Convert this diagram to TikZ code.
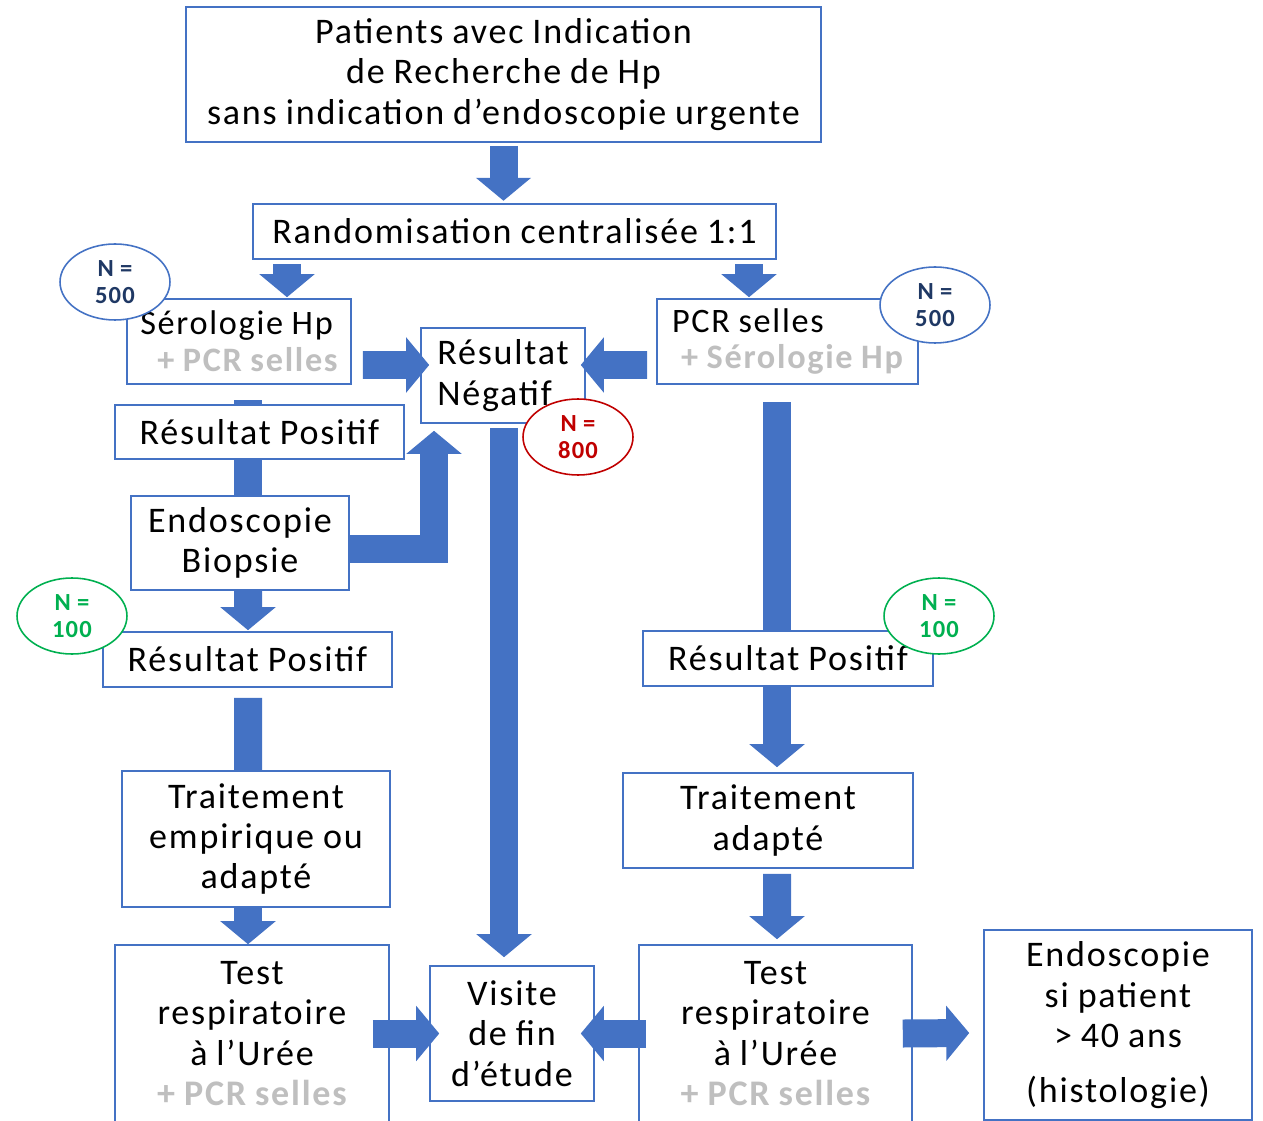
\documentclass[tikz,border=0pt]{standalone}
\usepackage{fontspec}
\setmainfont{Carlito}[LetterSpace=5, WordSpace=0.9]
\usetikzlibrary{arrows.meta, calc, shapes, positioning}
\definecolor{boxblue}{HTML}{4472C4}
\definecolor{darkblue}{HTML}{1F3864}
\definecolor{darkred}{HTML}{C00000}
\definecolor{okgreen}{HTML}{00B050}
\definecolor{paletext}{HTML}{BFBFBF}

\begin{document}
\begin{tikzpicture}[x=0.02cm, y=-0.02cm,
    box/.style={draw=boxblue, line width=0.9pt, fill=white, inner sep=0pt,
                align=center, font=\fontsize{20.5}{23}\selectfont},
    count/.style={ellipse, draw=#1, line width=0.9pt, fill=white, text=#1,
                  inner sep=0pt, minimum width=2.2cm, minimum height=1.52cm,
                  align=center, font=\fontsize{14}{15}\selectfont\bfseries},
    big/.style={draw=boxblue, line width=0.56cm, line join=miter,
                -{Triangle[width=1.08cm, length=0.46cm]}},
    shaft/.style={draw=boxblue, line width=0.56cm}]

      \useasboundingbox (0,0) rectangle (1263,1121);
      \clip (0,0) rectangle (1263,1121);

      \draw[shaft] (248,400) -- (248,497);
      \draw[shaft] (777,402) -- (777,631);

      \node[box, minimum width=12.7cm, minimum height=2.7cm]  (top)    at (503.5,74.5)
           {Patients avec Indication\\de Recherche de Hp\\sans indication d’endoscopie urgente};
      \node[box, minimum width=10.46cm, minimum height=1.1cm] (rand)   at (514.5,231.5)
           {Randomisation centralisée 1:1};
      \node[box, minimum width=4.48cm, minimum height=1.7cm, align=left,
            font=\fontsize{19.5}{21}\selectfont]              (sero)   at (239,341.5)
           {Sérologie Hp\\\hspace*{0.34cm}\textcolor{paletext}{\bfseries + PCR selles}};
      \node[box, minimum width=3.28cm, minimum height=1.9cm, align=left] (neg) at (503,375.5)
           {Résultat\\Négatif};
      \node[box, minimum width=5.22cm, minimum height=1.7cm, align=left,
            font=\fontsize{19.5}{21}\selectfont]              (pcr)    at (787.5,341.5)
           {PCR selles\\\hspace*{0.18cm}\textcolor{paletext}{\bfseries + Sérologie Hp}};
      \node[box, minimum width=5.78cm, minimum height=1.08cm] (pos_1)  at (259.5,432)
           {Résultat Positif};
      \node[box, minimum width=4.36cm, minimum height=1.88cm] (endo)   at (240,543)
           {Endoscopie\\Biopsie};
      \node[box, minimum width=5.78cm, minimum height=1.1cm]  (pos_2)  at (247.5,659.5)
           {Résultat Positif};
      \node[box, minimum width=5.8cm, minimum height=1.1cm]   (pos_3)  at (788,658.5)
           {Résultat Positif};
      \node[box, minimum width=5.36cm, minimum height=2.72cm] (trait_1) at (256,839)
           {Traitement\\empirique ou\\adapté};
      \node[box, minimum width=5.8cm, minimum height=1.9cm]   (trait_2) at (768,820.5)
           {Traitement\\adapté};
      \node[box, minimum width=5.48cm, minimum height=3.54cm] (test_1) at (252,1033.5)
           {Test\\respiratoire\\à l’Urée\\\textcolor{paletext}{\bfseries + PCR selles}};
      \node[box, minimum width=3.28cm, minimum height=2.7cm]  (visite) at (512,1033.5)
           {Visite\\de fin\\d’étude};
      \node[box, minimum width=5.46cm, minimum height=3.54cm] (test_2) at (775.5,1033.5)
           {Test\\respiratoire\\à l’Urée\\\textcolor{paletext}{\bfseries + PCR selles}};
      \node[box, minimum width=5.36cm, minimum height=3.8cm]  (endo_2) at (1118,1025)
           {Endoscopie\\si patient\\> 40 ans\\[8pt](histologie)};

      \draw[big] ($(top.south)+(0,3)$)        -- ($(top.south)+(0,58)$);
      \draw[big] ($(sero.north)+(48,-34)$)    -- ($(sero.north)+(48,-1)$);
      \draw[big] ($(pcr.north)+(-38.5,-34)$)  -- ($(pcr.north)+(-38.5,-1)$);
      \draw[big] ($(sero.east)+(11,23.5)$)    -- ($(neg.west)+(9,-10.5)$);
      \draw[big] ($(pcr.west)+(-9,23.5)$)     -- ($(neg.east)+(-5,-10.5)$);
      \draw[big] ($(endo.east)+(0,6)$)        -| ($(neg.south)+(-69,7)$);
      \draw[big] ($(neg.south)+(1,4)$)        -- ($(visite.north)+(-8,-8)$);
      \draw[big] ($(endo.south)+(8,0)$)       -- ($(pos_2.north)+(0.5,-1)$);
      \draw[shaft] ($(pos_2.south)+(0.5,10)$) -- ($(trait_1.north)+(-8,0)$);
      \draw[big] ($(trait_1.south)+(-8,0)$)   -- ($(test_1.north)+(-4,0)$);
      \draw[big] ($(test_1.east)+(-17,0)$)    -- ($(visite.west)+(10,0)$);
      \draw[big] ($(test_2.west)+(8,0)$)      -- ($(visite.east)+(-14,0)$);
      \draw[big] ($(test_2.east)+(-10,0)$)    -- ($(endo_2.west)+(-14,8)$);
      \draw[big] ($(pos_3.south)+(-11,0)$)    -- ($(trait_2.north)+(9,-5)$);
      \draw[big] ($(trait_2.south)+(9,5)$)    -- ($(test_2.north)+(1.5,-5)$);

      \node[count=boxblue, text=darkblue] (n_a) at (115,282) {N =\\500};
      \node[count=boxblue, text=darkblue] (n_b) at (935,305) {N =\\500};
      \node[count=darkred]                (n_c) at (578,437) {N =\\800};
      \node[count=okgreen]                (n_d) at (72,616)  {N =\\100};
      \node[count=okgreen]                (n_e) at (939,616) {N =\\100};
    \end{tikzpicture}
\end{document}
